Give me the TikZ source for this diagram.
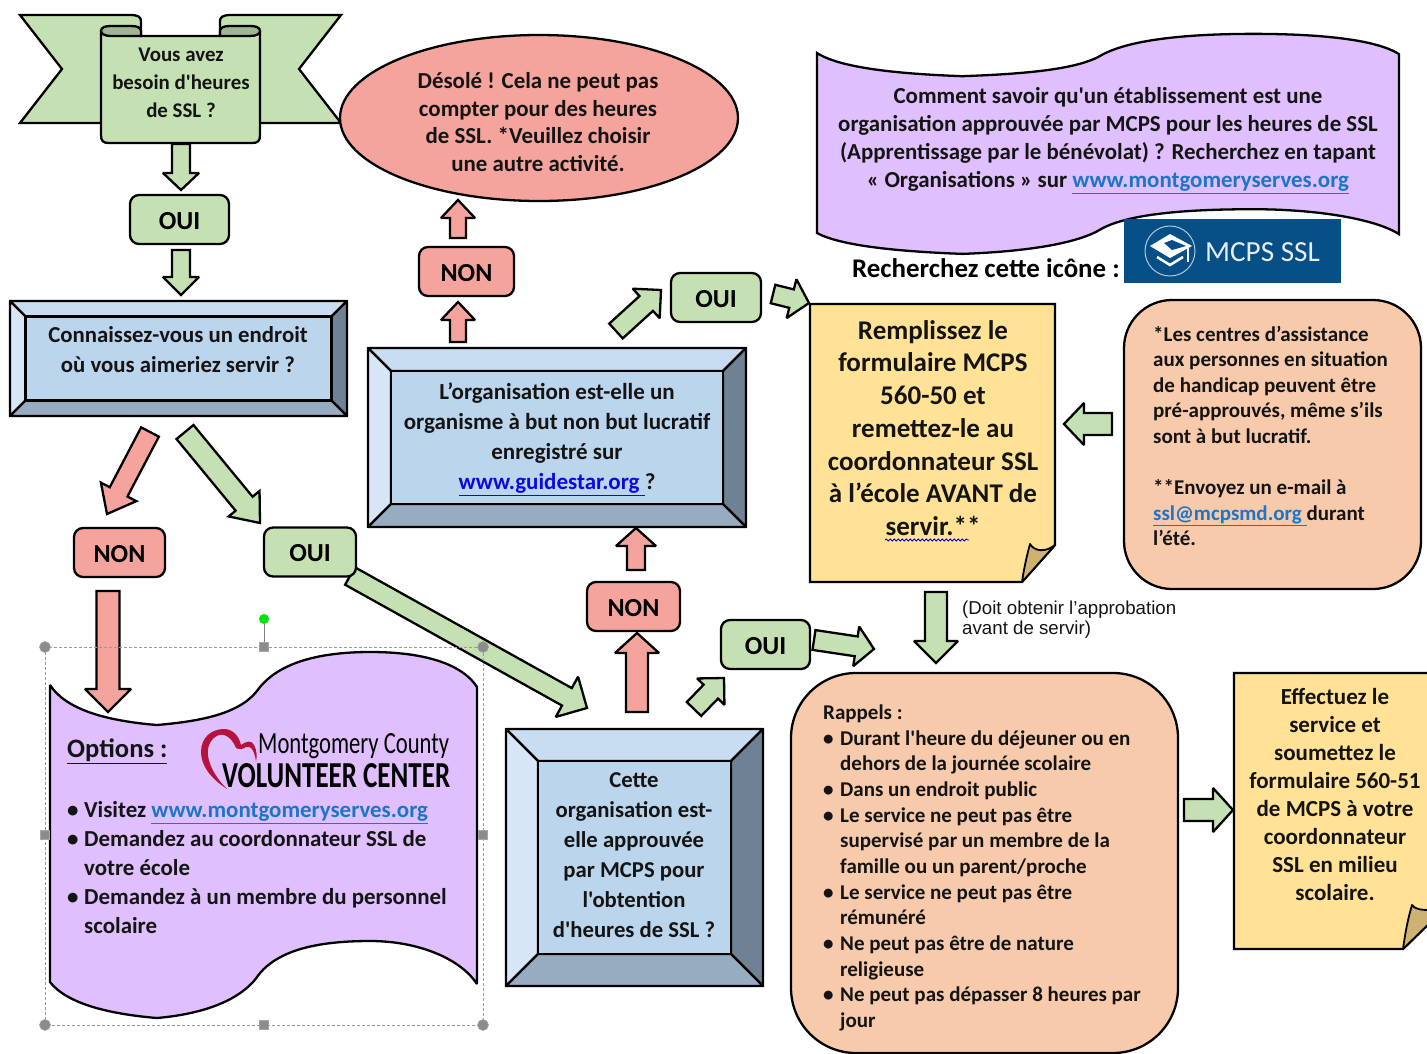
\documentclass[tikz,border=0pt]{standalone}
\usepackage{fontspec}
\setmainfont{Carlito}[Ligatures=TeXOff]
\newfontfamily\arialfont{Liberation Sans}
\usetikzlibrary{calc,shapes.geometric,decorations.pathmorphing}

\definecolor{okgreen}{HTML}{C5E0B3}
\definecolor{okdark}{HTML}{9FB690}
\definecolor{nored}{HTML}{F4A49C}
\definecolor{wavepurple}{HTML}{DFBFFD}
\definecolor{notepeach}{HTML}{F7CAAC}
\definecolor{noteyellow}{HTML}{FFE296}
\definecolor{foldtan}{HTML}{CDB272}
\definecolor{bevelin}{HTML}{BBD5ED}
\definecolor{beveltop}{HTML}{C8DDF2}
\definecolor{bevelleft}{HTML}{D7E6F6}
\definecolor{bevelright}{HTML}{6F8194}
\definecolor{bevelbottom}{HTML}{97ACC1}
\definecolor{linkblue}{HTML}{1B75C9}
\definecolor{linkdeep}{HTML}{0A0AE6}
\definecolor{iconblue}{HTML}{064F87}
\definecolor{heartred}{HTML}{B5123E}

\newcommand{\fs}[2]{\fontsize{#1}{#2}\selectfont\bfseries}
\newcommand{\lnk}[1]{\textcolor{linkblue}{\underline{#1}}}
\newcommand{\itemb}{\makebox[17pt][l]{\textbullet}}
\newcommand{\itemc}{\hspace*{17pt}}

\newcommand{\blockarrow}[6]{
    \coordinate (h) at ($(#3)!#6pt!(#2)$);
    \draw[#1] ($(#2)!#4pt!90:(#3)$) -- ($(h)!#4pt!90:(#3)$) -- ($(h)!#5pt!90:(#3)$) -- (#3)
        -- ($(h)!#5pt!-90:(#3)$) -- ($(h)!#4pt!-90:(#3)$) -- ($(#2)!#4pt!-90:(#3)$) -- cycle;
}
\newcommand{\bevelbox}[5]{
    \draw[bevelface,fill=beveltop] (#1,#2) -- (#3,#2) -- (#3-#5,#2+#5) -- (#1+#5,#2+#5) -- cycle;
    \draw[bevelface,fill=bevelleft] (#1,#2) -- (#1+#5,#2+#5) -- (#1+#5,#4-#5) -- (#1,#4) -- cycle;
    \draw[bevelface,fill=bevelright] (#3,#2) -- (#3-#5,#2+#5) -- (#3-#5,#4-#5) -- (#3,#4) -- cycle;
    \draw[bevelface,fill=bevelbottom] (#1,#4) -- (#1+#5,#4-#5) -- (#3-#5,#4-#5) -- (#3,#4) -- cycle;
    \draw[edge,fill=bevelin] (#1+#5,#2+#5) rectangle (#3-#5,#4-#5);
    \draw[edge] (#1,#2) rectangle (#3,#4);
}
\newcommand{\wavebox}[5]{
    \begin{scope}[shift={(#1,#2)},x=#3pt,y=-1pt]
        \draw[edge,fill=wavepurple] (0,0) .. controls (0.04,26*#5) and (0.14,36*#5) .. (0.25,40*#5)
            .. controls (0.36,36*#5) and (0.45,28*#5) .. (0.49,3*#5)
            .. controls (0.54,-24*#5) and (0.64,-33*#5) .. (0.75,-33*#5)
            .. controls (0.86,-33*#5) and (0.96,-24*#5) .. (1,2*#5)
            -- (1,#4+2*#5)
            .. controls (0.96,#4-24*#5) and (0.86,#4-41*#5) .. (0.75,#4-41*#5)
            .. controls (0.64,#4-41*#5) and (0.54,#4-34*#5) .. (0.49,#4-8*#5)
            .. controls (0.45,#4+18*#5) and (0.36,#4+32*#5) .. (0.25,#4+36*#5)
            .. controls (0.14,#4+32*#5) and (0.04,#4+22*#5) .. (0,#4) -- cycle;
    \end{scope}
}

\tikzset{
    edge/.style={draw=black,line width=2.3pt,line join=miter,miter limit=2.5},
    bevelface/.style={draw=black,line width=2.3pt,line join=round},
    okbox/.style={draw=black,line width=2.3pt,fill=okgreen,rounded corners=9pt,minimum width=99pt,minimum height=49pt,inner sep=0pt,text height=19pt,text depth=0pt,font=\fs{26}{30}},
    nobox/.style={okbox,fill=nored},
    okarrow/.style={edge,fill=okgreen},
    noarrow/.style={edge,fill=nored},
    peach/.style={edge,fill=notepeach,inner sep=0pt},
    txt/.style={align=center,inner sep=0pt,text=black!92},
    ltxt/.style={align=left,inner sep=0pt,anchor=west,text=black!92},
    handle/.style={fill=black!45,draw=black!35,line width=0.6pt}
}

\begin{document}
\begin{tikzpicture}[x=1pt,y=-1pt]
\clip (0,0) rectangle (1427,1053);

\coordinate (a1s) at (181,144);
\coordinate (a1e) at (181,190);
\coordinate (a2s) at (181,250);
\coordinate (a2e) at (181,295);
\coordinate (a3s) at (150,432);
\coordinate (a3e) at (107,514);
\coordinate (a4s) at (185,432);
\coordinate (a4e) at (260,523);
\coordinate (a5s) at (108,591);
\coordinate (a5e) at (108,712);
\coordinate (a6s) at (350,576);
\coordinate (a6e) at (587,708);
\coordinate (a7s) at (637,712);
\coordinate (a7e) at (637,633);
\coordinate (a8s) at (636,570);
\coordinate (a8e) at (636,528);
\coordinate (a9s) at (694,709);
\coordinate (a9e) at (724,678);
\coordinate (a10s) at (814,640);
\coordinate (a10e) at (874,649);
\coordinate (a11s) at (458,342);
\coordinate (a11e) at (458,302);
\coordinate (a12s) at (458,238);
\coordinate (a12e) at (458,200);
\coordinate (a13s) at (616,331);
\coordinate (a13e) at (661,290);
\coordinate (a14s) at (773,294);
\coordinate (a14e) at (809,303);
\coordinate (a15s) at (1112,424);
\coordinate (a15e) at (1064,424);
\coordinate (a16s) at (936,592);
\coordinate (a16e) at (936,663);
\coordinate (a17s) at (1184,810);
\coordinate (a17e) at (1233,810);

\draw[edge,fill=okgreen] (20,15) -- (130,15) .. controls (138,15) and (141,17) .. (141,21) -- (141,123) -- (20,123) -- (62,69) -- cycle;
\draw[edge,fill=okgreen] (341,15) -- (231,15) .. controls (223,15) and (220,17) .. (220,21) -- (220,123) -- (341,123) -- (299,69) -- cycle;
\draw[edge,fill=okgreen] (101,31) -- (101,135) .. controls (101,141) and (103,143) .. (109,143) -- (252,143) .. controls (258,143) and (260,141) .. (260,135) -- (260,31) -- (220,36) -- (141,36) -- cycle;
\draw[edge,fill=okdark] (101,31) .. controls (101,27) and (106,26) .. (111,26) -- (131,26) .. controls (138,26) and (141,28) .. (141,31) -- (141,36) -- (111,36) .. controls (105,36) and (101,34) .. (101,31) -- cycle;
\draw[edge,fill=okdark] (260,31) .. controls (260,27) and (255,26) .. (250,26) -- (230,26) .. controls (223,26) and (220,28) .. (220,31) -- (220,36) -- (250,36) .. controls (256,36) and (260,34) .. (260,31) -- cycle;
\node[txt,font=\fs{20.9}{28}] (needssl) at (181,83) {Vous avez\\besoin d'heures\\de SSL ?};

\blockarrow{okarrow}{a1s}{a1e}{9}{18}{17}
\node[okbox] (oui1) at (179.5,219.5) {OUI};
\blockarrow{okarrow}{a2s}{a2e}{9}{18}{18}

\bevelbox{10}{301}{347}{416}{15.5}
\node[txt,font=\fs{22.8}{30}] (q1) at (178,350) {Connaissez-vous un endroit\\où vous aimeriez servir ?};

\blockarrow{noarrow}{a3s}{a3e}{10}{20}{25}
\blockarrow{okarrow}{a4s}{a4e}{11}{20}{25}
\blockarrow{okarrow}{a6s}{a6e}{10}{23}{23}
\node[nobox,minimum width=91pt] (non1) at (119.5,552.5) {NON};
\node[okbox,minimum width=92pt] (oui2) at (310,552) {OUI};

\wavebox{50}{685}{427}{297}{1}
\blockarrow{noarrow}{a5s}{a5e}{11.5}{23}{23}
\draw[black!40,line width=1pt,dash pattern=on 3pt off 2pt] (45,647) rectangle (483,1025);
\draw[black!50,line width=1pt] (264,619) -- (264,647);
\fill[green!90!black] (264,619) circle (5);
\foreach \cx/\cy in {45/647,483/647,45/1025,483/1025}
    \draw[handle] (\cx,\cy) circle (5.5);
\foreach \cx/\cy in {264/647,45/835,483/835,264/1025}
    \draw[handle] (\cx-4.5,\cy-4.5) rectangle (\cx+4.5,\cy+4.5);

\node[ltxt,font=\fs{26.6}{30}] (options) at (67,751) {\underline{Options :}};
\fill[heartred] (227,789) .. controls (210,778) and (201,765) .. (201,752) .. controls (201,737) and (212,729) .. (224,729)
    .. controls (233,729) and (239,736) .. (241,745) .. controls (246,741) and (252,740) .. (254,745)
    .. controls (257,750) and (257,757) .. (256,762) .. controls (255,752) and (251,745) .. (246,747)
    .. controls (243,749) and (240,750) .. (236,748) .. controls (233,740) and (226,733) .. (219,735)
    .. controls (211,738) and (207,746) .. (208,755) .. controls (209,767) and (218,780) .. (227,789) -- cycle;
\node[anchor=base west,inner sep=0pt,text depth=0pt] (montco) at (258,753.5) {\resizebox{191pt}{20pt}{\mdseries Montgomery County}};
\node[anchor=base west,inner sep=0pt] (volcenter) at (222,787) {\resizebox{228pt}{24pt}{\bfseries VOLUNTEER CENTER}};
\node[ltxt,font=\fs{22.9}{29}] (optlist) at (67,868) {\itemb Visitez \lnk{www.montgomeryserves.org}\\\itemb Demandez au coordonnateur SSL de\\\itemc votre école\\\itemb Demandez à un membre du personnel\\\itemc scolaire};

\node[draw=black,line width=2.3pt,fill=nored,ellipse,minimum width=398pt,minimum height=166pt,inner sep=0pt] (sorry) at (539,118) {};
\node[txt,font=\fs{22.9}{27.7}] (sorrytxt) at (538,122) {Désolé ! Cela ne peut pas\\compter pour des heures\\de SSL. *Veuillez choisir\\une autre activité.};
\blockarrow{noarrow}{a12s}{a12e}{8}{17}{18}
\node[nobox,minimum width=95pt] (non3) at (466.5,271.5) {NON};
\blockarrow{noarrow}{a11s}{a11e}{8}{17}{18}

\bevelbox{368}{348}{746}{527}{23}
\node[txt,font=\fs{23}{30}] (q2) at (557,439) {L’organisation est-elle un\\organisme à but non but lucratif\\enregistré sur\\\textcolor{linkdeep}{\underline{www.guidestar.org }}?};

\blockarrow{okarrow}{a13s}{a13e}{10}{20}{20}
\node[okbox,minimum width=90pt] (oui4) at (716,297.5) {OUI};
\blockarrow{okarrow}{a14s}{a14e}{9.5}{20}{18}

\wavebox{817}{53}{582}{180}{0.58}
\node[txt,font=\fs{22.9}{28}] (howto) at (1108,140.5) {Comment savoir qu'un établissement est une\\organisation approuvée par MCPS pour les heures de SSL\\(Apprentissage par le bénévolat) ? Recherchez en tapant\\« Organisations » sur \lnk{www.montgomeryserves.org}};
\fill[iconblue] (1124,219) rectangle (1341,283);
\draw[white!70!iconblue,line width=1pt] (1170,251) circle (25);
\fill[white] (1170,234) -- (1192,246) -- (1170,258) -- (1150,246) -- cycle;
\fill[iconblue] (1164,243) -- (1172,240) -- (1186,246) -- (1172,250) -- cycle;
\draw[white,line width=2.5pt] (1157,257) -- (1170,265) -- (1183,257);
\draw[white,line width=1.2pt] (1188,248) -- (1188,262);
\node[anchor=west,inner sep=0pt,text=white!90!iconblue,font=\fontsize{29.2}{34}\selectfont] (mcps) at (1205,252) {MCPS SSL};
\node[anchor=east,inner sep=0pt,font=\fs{26.9}{30}] (lookfor) at (1120,268) {Recherchez cette icône :};

\draw[edge,fill=noteyellow] (810,304) -- (1055,304) -- (1055,545) -- (1022,582) -- (810,582) -- cycle;
\draw[edge,line join=round,fill=foldtan,line width=1.8pt] (1022,582) .. controls (1024,568) and (1027,555) .. (1030,544) .. controls (1034,551) and (1045,553) .. (1055,545) -- cycle;
\node[txt,font=\fs{27}{32.7}] (form) at (933,428) {Remplissez le\\formulaire MCPS\\560-50 et\\remettez-le au\\coordonnateur SSL\\à l’école AVANT de\\servir.**};
\draw[blue!80!black,line width=0.8pt,decorate,decoration={snake,amplitude=1pt,segment length=4pt}] (885,540) -- (969,540);

\node[peach,rounded corners=48pt,minimum width=297pt,minimum height=289pt] (centers) at (1272.5,444.5) {};
\node[ltxt,font=\fs{21}{25.6}] (centerstxt) at (1153,436) {*Les centres d’assistance\\aux personnes en situation\\de handicap peuvent être\\pré-approuvés, même s’ils\\sont à but lucratif.\\~\\**Envoyez un e-mail à\\\lnk{ssl@mcpsmd.org }durant\\l’été.};
\blockarrow{okarrow}{a15s}{a15e}{11}{21}{20}

\blockarrow{okarrow}{a16s}{a16e}{11}{22}{22}
\node[ltxt,font=\arialfont\fontsize{18.7}{20}\selectfont] (approval) at (962,620) {(Doit obtenir l’approbation\\avant de servir)};

\bevelbox{506}{729}{763}{986}{32}
\node[txt,font=\fs{22.7}{30}] (q3) at (634,855) {Cette\\organisation est-\\elle approuvée\\par MCPS pour\\l'obtention\\d'heures de SSL ?};
\blockarrow{noarrow}{a8s}{a8e}{9}{20}{18}
\node[nobox,minimum width=93pt] (non2) at (633.5,606.5) {NON};
\blockarrow{noarrow}{a7s}{a7e}{11}{22}{20}
\blockarrow{okarrow}{a9s}{a9e}{10}{19}{19}
\node[okbox,minimum width=89pt] (oui3) at (765.5,644.5) {OUI};
\blockarrow{okarrow}{a10s}{a10e}{10}{20}{18}

\node[peach,rounded corners=65pt,minimum width=387pt,minimum height=380pt] (reminders) at (984.5,863) {};
\node[ltxt,font=\fs{21}{25.67}] (reminderstxt) at (823,868) {Rappels :\\\itemb Durant l'heure du déjeuner ou en\\\itemc dehors de la journée scolaire\\\itemb Dans un endroit public\\\itemb Le service ne peut pas être\\\itemc supervisé par un membre de la\\\itemc famille ou un parent/proche\\\itemb Le service ne peut pas être\\\itemc rémunéré\\\itemb Ne peut pas être de nature\\\itemc religieuse\\\itemb Ne peut pas dépasser 8 heures par\\\itemc jour};
\blockarrow{okarrow}{a17s}{a17e}{11}{22}{20}

\draw[edge,fill=noteyellow] (1234,673) -- (1445,673) -- (1445,908) -- (1403,949) -- (1234,949) -- cycle;
\draw[edge,line join=round,fill=foldtan,line width=1.8pt] (1403,949) .. controls (1405,934) and (1408,918) .. (1412,905) .. controls (1416,911) and (1430,911) .. (1445,908) -- cycle;
\node[txt,font=\fs{23}{28}] (effect) at (1335,794.5) {Effectuez le\\service et\\soumettez le\\formulaire 560-51\\de MCPS à votre\\coordonnateur\\SSL en milieu\\scolaire.};
\end{tikzpicture}
\end{document}
